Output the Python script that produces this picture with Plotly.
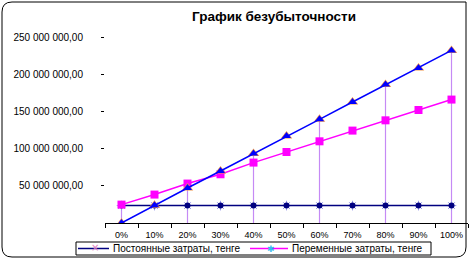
import plotly.graph_objects as go

categories = ["0%", "10%", "20%", "30%", "40%", "50%", "60%", "70%", "80%", "90%", "100%"]
fixed_costs = [23.4e6] * 11
total_costs = [24.7e6, 38.2e6, 53.0e6, 65.5e6, 81.2e6, 95.4e6, 109.8e6, 124.2e6, 138.0e6, 151.9e6, 165.9e6]
revenue = [0.0, 24.0e6, 47.0e6, 69.9e6, 93.3e6, 117.0e6, 139.4e6, 162.6e6, 186.0e6, 208.3e6, 232.0e6]
drop_idx = [0, 2, 4, 6, 8, 10]
y_tickvals = [50e6, 100e6, 150e6, 200e6, 250e6]
y_ticktext = ["50 000 000,00", "100 000 000,00", "150 000 000,00", "200 000 000,00", "250 000 000,00"]
legend_names = ["Постоянные затраты, тенге", "Переменные затраты, тенге"]
title_text = "График безубыточности"

FONT = "Liberation Sans, Arial, sans-serif"
L, R, T, B = 105, 1, 37, 36
W, H = 469, 259
PW, PH = W - L - R, H - T - B


def px(xp):
    return (xp - L) / PW


def py(yp):
    return (H - B - yp) / PH


fig = go.Figure()

# vertical drop lines
dx, dy = [], []
for i in drop_idx:
    top = max(fixed_costs[i], total_costs[i], revenue[i])
    dx += [categories[i], categories[i], None]
    dy += [0, top, None]
fig.add_trace(go.Scatter(x=dx, y=dy, mode="lines", line=dict(color="#c58af5", width=1.2),
                         showlegend=False, hoverinfo="skip"))

# fixed costs
fig.add_trace(go.Scatter(x=categories, y=fixed_costs, mode="markers",
                         marker=dict(symbol="asterisk-open", size=8, color="#9a9ae8",
                                     line=dict(width=1, color="#9a9ae8")),
                         showlegend=False))
fig.add_trace(go.Scatter(x=categories, y=fixed_costs, mode="lines+markers",
                         line=dict(color="#000080", width=1.5),
                         marker=dict(symbol="circle", size=6, color="#000080"),
                         showlegend=False))

# total costs
fig.add_trace(go.Scatter(x=categories, y=total_costs, mode="lines+markers",
                         line=dict(color="#ff00ff", width=1.5),
                         marker=dict(symbol="square", size=8, color="#ff00ff"),
                         showlegend=False))

# revenue
fig.add_trace(go.Scatter(x=categories, y=revenue, mode="markers",
                         marker=dict(symbol="triangle-up", size=10, color="#f0964a"),
                         showlegend=False))
fig.add_trace(go.Scatter(x=categories, y=revenue, mode="lines+markers",
                         line=dict(color="#0000ff", width=1.5),
                         marker=dict(symbol="triangle-up", size=8, color="#0000ff"),
                         showlegend=False))

leg_y = 248.5

r = 10
x0, y0, x1, y1 = 2, 2, 466, 257
frame = (f"M {px(x0 + r)} {py(y0)} L {px(x1)} {py(y0)} L {px(x1)} {py(y1 - r)} "
         f"Q {px(x1)} {py(y1)} {px(x1 - r)} {py(y1)} L {px(x0 + r)} {py(y1)} "
         f"Q {px(x0)} {py(y1)} {px(x0)} {py(y1 - r)} L {px(x0)} {py(y0 + r)} "
         f"Q {px(x0)} {py(y0)} {px(x0 + r)} {py(y0)} Z")

shapes = [
    dict(type="path", xref="paper", yref="paper", path=frame,
         line=dict(color="black", width=1), fillcolor="rgba(0,0,0,0)", layer="below"),
    dict(type="rect", xref="paper", yref="paper", x0=px(76), x1=px(431), y0=py(242), y1=py(255),
         line=dict(color="black", width=1), fillcolor="white", layer="below"),
    dict(type="line", xref="paper", yref="paper", x0=px(78), x1=px(109), y0=py(leg_y), y1=py(leg_y),
         line=dict(color="#000080", width=1.5)),
    dict(type="line", xref="paper", yref="paper", x0=px(250), x1=px(288), y0=py(leg_y), y1=py(leg_y),
         line=dict(color="#ff00ff", width=1.5)),
]

annotations = [
    dict(text="<b>" + title_text + "</b>", xref="paper", yref="paper",
         x=px(274), y=py(16), xanchor="center", yanchor="middle", showarrow=False,
         font=dict(family=FONT, size=13.5, color="black")),
    dict(text="×", xref="paper", yref="paper", x=px(95), y=py(leg_y - 0.5),
         xanchor="center", yanchor="middle", showarrow=False,
         font=dict(family="DejaVu Sans", size=10, color="#e07cc0")),
    dict(text="✱", xref="paper", yref="paper", x=px(271), y=py(leg_y),
         xanchor="center", yanchor="middle", showarrow=False,
         font=dict(family="DejaVu Sans", size=9, color="#33bbee")),
    dict(text=legend_names[0], xref="paper", yref="paper", x=px(111), y=py(leg_y),
         xanchor="left", yanchor="middle", showarrow=False,
         font=dict(family=FONT, size=10, color="black")),
    dict(text=legend_names[1], xref="paper", yref="paper", x=px(290), y=py(leg_y),
         xanchor="left", yanchor="middle", showarrow=False,
         font=dict(family=FONT, size=10, color="black")),
]

fig.update_layout(
    width=W, height=H,
    margin=dict(l=L, r=R, t=T, b=B),
    paper_bgcolor="white", plot_bgcolor="white",
    font=dict(family=FONT, size=10, color="black"),
    showlegend=False,
    xaxis=dict(type="category", categoryorder="array", categoryarray=categories,
               range=[-0.5, 10.5], showgrid=False, zeroline=False,
               showline=True, linecolor="black", linewidth=1,
               ticks="outside", tickson="boundaries", ticklen=4, tickcolor="black",
               ticklabelstandoff=3,
               tickfont=dict(family=FONT, size=9, color="black"), fixedrange=True),
    yaxis=dict(range=[0, 250e6], showgrid=False, zeroline=False, showline=False,
               tickvals=y_tickvals, ticktext=y_ticktext,
               ticks="outside", ticklen=3, tickcolor="black", ticklabelstandoff=16,
               tickfont=dict(family=FONT, size=10, color="black"), fixedrange=True),
    shapes=shapes,
    annotations=annotations,
)

fig.write_html("out.html")
